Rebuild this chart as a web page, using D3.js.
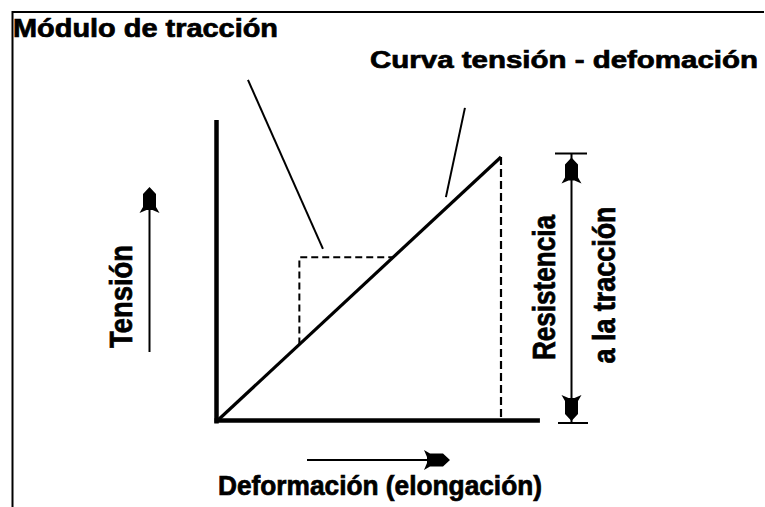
<!DOCTYPE html>
<html>
<head>
<meta charset="utf-8">
<script src="https://cdn.jsdelivr.net/npm/d3@7"></script>
<style>
  html, body { margin: 0; padding: 0; background: #fff; }
  svg { display: block; }
  text { font-family: "Liberation Sans", Arial, Helvetica, sans-serif; font-weight: bold; fill: #000; stroke: #000; stroke-width: 0.7; }
</style>
</head>
<body>
<svg id="chart" width="765" height="507"></svg>
<script>
// ---- data (normalised strain / stress units) ----
const axisMax = [1.137, 1.14];                 // [strain, stress] axis extents
const curveStrain = [0, 1];                    // stress–strain curve (linear)
const curveStress = [0, 1];
const modulusPoint = [0.29, 0.62];             // dashed construction for modulus
const ultimatePoint = [1, 1];                  // tensile strength point
const leaderModulus = [[0.109, 1.292], [0.373, 0.652]];
const leaderCurve = [[0.873, 1.186], [0.806, 0.848]];
const labels = {
  title: "Módulo de tracción",
  curve: "Curva tensión - defomación",
  yLabel: "Tensión",
  xLabel: "Deformación (elongación)",
  strength1: "Resistencia",
  strength2: "a la tracción"
};

const svg = d3.select("#chart");
const x = d3.scaleLinear().domain([0, 1]).range([217, 501]);
const y = d3.scaleLinear().domain([0, 1]).range([421, 157]);
const line = d3.line().x(d => x(d[0])).y(d => y(d[1]));

// frame (top and left edges)
svg.append("line").attr("x1", 12).attr("y1", 12).attr("x2", 764).attr("y2", 12)
  .attr("stroke", "#000").attr("stroke-width", 2);
svg.append("line").attr("x1", 12.5).attr("y1", 11).attr("x2", 12.5).attr("y2", 507)
  .attr("stroke", "#000").attr("stroke-width", 2);

// axes
svg.append("line").attr("x1", x(0) - 0.5).attr("y1", y(axisMax[1])).attr("x2", x(0) - 0.5).attr("y2", y(0) + 2.5)
  .attr("stroke", "#000").attr("stroke-width", 4.5);
svg.append("line").attr("x1", x(0) - 2.5).attr("y1", y(0) - 0.5).attr("x2", x(axisMax[0])).attr("y2", y(0) - 0.5)
  .attr("stroke", "#000").attr("stroke-width", 4.5);

// dashed construction lines
svg.append("path")
  .attr("d", line([[modulusPoint[0], modulusPoint[0]], [modulusPoint[0], modulusPoint[1]], [modulusPoint[1], modulusPoint[1]]]))
  .attr("fill", "none").attr("stroke", "#000").attr("stroke-width", 2).attr("stroke-dasharray", "7,4");
svg.append("path")
  .attr("d", line([[ultimatePoint[0], ultimatePoint[1]], [ultimatePoint[0], 0]]))
  .attr("fill", "none").attr("stroke", "#000").attr("stroke-width", 2.2).attr("stroke-dasharray", "8,4");

// stress-strain curve
svg.append("path")
  .attr("d", line(curveStrain.map((s, i) => [s, curveStress[i]])))
  .attr("fill", "none").attr("stroke", "#000").attr("stroke-width", 3.2);

// leader lines
[leaderModulus, leaderCurve].forEach(l => {
  svg.append("path").attr("d", line(l))
    .attr("fill", "none").attr("stroke", "#000").attr("stroke-width", 2);
});

// arrowhead (pointing +x, tip at origin)
const headPath = "M0,0 L-7,-6.5 L-20,-6.5 L-26,-10 L-23,-3 L-23,3 L-26,10 L-20,6.5 L-7,6.5 Z";
function arrowHead(tx, ty, angle) {
  svg.append("path").attr("d", headPath)
    .attr("transform", `translate(${tx},${ty}) rotate(${angle})`)
    .attr("fill", "#000");
}

// Tension arrow (vertical, left)
svg.append("line").attr("x1", 149.5).attr("y1", 352).attr("x2", 149.5).attr("y2", 195)
  .attr("stroke", "#000").attr("stroke-width", 2);
arrowHead(149.5, 187, -90);

// Deformation arrow (horizontal, bottom)
svg.append("line").attr("x1", 307).attr("y1", 460).attr("x2", 440).attr("y2", 460)
  .attr("stroke", "#000").attr("stroke-width", 2);
arrowHead(450, 460, 0);

// Tensile-strength dimension arrow
const dimX = 571.5;
const dimTop = y(ultimatePoint[1]) - 3.5, dimBot = y(0) + 2;
svg.append("line").attr("x1", dimX).attr("y1", dimTop).attr("x2", dimX).attr("y2", dimBot)
  .attr("stroke", "#000").attr("stroke-width", 2);
svg.append("line").attr("x1", 555).attr("y1", dimTop).attr("x2", 587).attr("y2", dimTop)
  .attr("stroke", "#000").attr("stroke-width", 2);
svg.append("line").attr("x1", 558).attr("y1", dimBot).attr("x2", 588).attr("y2", dimBot)
  .attr("stroke", "#000").attr("stroke-width", 2);
arrowHead(dimX, dimTop + 4, -90);
arrowHead(dimX, dimBot - 2, 90);

// texts
function txt(str, tx, ty, size, len, rot, anchor) {
  const t = svg.append("text").text(str)
    .attr("font-size", size)
    .attr("textLength", len).attr("lengthAdjust", "spacingAndGlyphs")
    .attr("text-anchor", anchor || "start");
  if (rot) t.attr("transform", `translate(${tx},${ty}) rotate(${rot})`);
  else t.attr("x", tx).attr("y", ty);
  return t;
}
txt(labels.title, 13, 36.5, 25, 265);
txt(labels.curve, 370, 68, 24, 388);
txt(labels.xLabel, 218, 495, 27, 324);
txt(labels.yLabel, 131.5, 296.5, 31, 103, -90, "middle");
txt(labels.strength1, 555, 287.5, 31, 145, -90, "middle");
txt(labels.strength2, 615, 285, 31, 157, -90, "middle");
</script>
</body>
</html>
